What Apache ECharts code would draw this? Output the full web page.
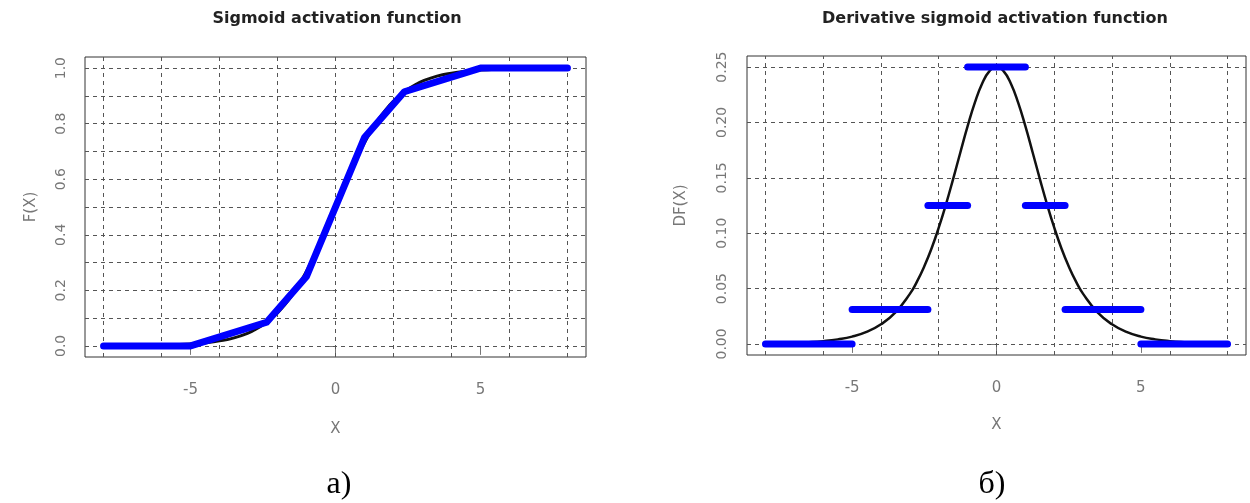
<!DOCTYPE html>
<html>
<head>
<meta charset="utf-8">
<script src="https://cdn.jsdelivr.net/npm/echarts@6/dist/echarts.min.js"></script>
<style>
  html, body { margin: 0; padding: 0; background: #fff; }
  #main { width: 1250px; height: 503px; }
</style>
</head>
<body>
<div id="main"></div>
<script>
// значения
var xs = [-8,-7.5,-7,-6.5,-6,-5.5,-5,-4.5,-4,-3.5,-3,-2.75,-2.5,-2.25,-2,-1.75,-1.5,-1.25,-1,-0.75,-0.5,-0.25,0,
          0.25,0.5,0.75,1,1.25,1.5,1.75,2,2.25,2.5,2.75,3,3.5,4,4.5,5,5.5,6,6.5,7,7.5,8];
// сигмоида (черная кривая, слева)
var sigY = [0.0003,0.0006,0.0009,0.0015,0.0025,0.0041,0.0067,0.011,0.018,0.029,0.047,0.060,0.076,0.095,0.119,0.148,0.182,0.223,0.269,0.321,0.378,0.438,0.5,
            0.562,0.622,0.679,0.731,0.777,0.818,0.852,0.881,0.905,0.924,0.940,0.953,0.971,0.982,0.989,0.993,0.996,0.998,0.998,0.999,0.999,1.0];
// производная сигмоиды (черная кривая, справа)
var dsigY = [0.0003,0.0006,0.0009,0.0015,0.0025,0.0041,0.0066,0.0109,0.0177,0.0285,0.0452,0.0565,0.0701,0.0862,0.105,0.1261,0.1491,0.1731,0.1966,0.2179,0.235,0.2461,0.25,
             0.2461,0.235,0.2179,0.1966,0.1731,0.1491,0.1261,0.105,0.0862,0.0701,0.0565,0.0452,0.0285,0.0177,0.0109,0.0066,0.0041,0.0025,0.0015,0.0009,0.0006,0.0003];
// кусочно-линейная аппроксимация (синяя линия)
var hardX = [-8,-5,-2.375,-1,0,1,2.375,5,8];
var hardY = [0,0,0.085,0.25,0.5,0.75,0.915,1,1];
// производная аппроксимации (синие отрезки)
var segFrom = [-8,-5,-2.375,-1,1,2.375,5];
var segTo   = [-5,-2.375,-1,1,2.375,5,8];
var segY    = [0,0.031,0.125,0.25,0.125,0.031,0];
// подписи и сетка
var xTicks = [-5,0,5];
var yTicksL = [0,0.2,0.4,0.6,0.8,1.0];
var yTicksR = [0,0.05,0.10,0.15,0.20,0.25];
var vGrid = [-8,-6,-4,-2,0,2,4,6,8];
var hGridL = [0,0.1,0.2,0.3,0.4,0.5,0.6,0.7,0.8,0.9,1.0];
var hGridR = [0,0.05,0.10,0.15,0.20,0.25];

var myChart = echarts.init(document.getElementById('main'));

var tickColor = '#777';
var labColor = '#777';
var gridLine = { color: '#555', width: 1, type: [4, 4] };

function xAxisOpt(gi, gap) {
    return {
        type: 'value', gridIndex: gi, min: -8.64, max: 8.64,
        axisLine: { show: false },
        axisTick: { show: true, customValues: xTicks, length: 9, lineStyle: { color: tickColor } },
        axisLabel: { customValues: xTicks, margin: 26, color: labColor, fontSize: 15, fontFamily: 'DejaVu Sans' },
        splitLine: { show: false },
        name: 'X', nameLocation: 'middle', nameGap: gap,
        nameTextStyle: { color: labColor, fontSize: 15, fontFamily: 'DejaVu Sans' }
    };
}
function yAxisOpt(gi, min, max, ticks, digits, name, gap, margin) {
    return {
        type: 'value', gridIndex: gi, min: min, max: max,
        axisLine: { show: false },
        axisTick: { show: true, customValues: ticks, length: 9, lineStyle: { color: tickColor } },
        axisLabel: {
            customValues: ticks, rotate: 90, margin: margin, color: labColor, fontSize: 14, fontFamily: 'DejaVu Sans',
            formatter: function (v) { return v.toFixed(digits); }
        },
        splitLine: { show: false },
        name: name, nameLocation: 'middle', nameRotate: 90, nameGap: gap,
        nameTextStyle: { color: labColor, fontSize: 15, fontFamily: 'DejaVu Sans' }
    };
}
function gridLines(gi, hVals) {
    var d = [];
    vGrid.forEach(function (v) { d.push({ xAxis: v }); });
    hVals.forEach(function (v) { d.push({ yAxis: v }); });
    return {
        type: 'line', xAxisIndex: gi, yAxisIndex: gi, data: [], z: 1,
        markLine: { silent: true, symbol: ['none', 'none'], label: { show: false }, lineStyle: gridLine, z: 1, data: d, animation: false }
    };
}

var series = [];
series.push(gridLines(0, hGridL));
series.push(gridLines(1, hGridR));
series.push({
    type: 'line', xAxisIndex: 0, yAxisIndex: 0, z: 3, smooth: true, showSymbol: false,
    lineStyle: { color: '#111', width: 3 },
    data: xs.map(function (x, i) { return [x, sigY[i]]; })
});
series.push({
    type: 'line', xAxisIndex: 0, yAxisIndex: 0, z: 4, showSymbol: false,
    lineStyle: { color: '#0000ff', width: 7, cap: 'round', join: 'round' },
    data: hardX.map(function (x, i) { return [x, hardY[i]]; })
});
series.push({
    type: 'line', xAxisIndex: 1, yAxisIndex: 1, z: 3, smooth: true, showSymbol: false,
    lineStyle: { color: '#111', width: 2.5 },
    data: xs.map(function (x, i) { return [x, dsigY[i]]; })
});
for (var k = 0; k < segFrom.length; k++) {
    series.push({
        type: 'line', xAxisIndex: 1, yAxisIndex: 1, z: 4, showSymbol: false,
        lineStyle: { color: '#0000ff', width: 7, cap: 'round' },
        data: [[segFrom[k], segY[k]], [segTo[k], segY[k]]]
    });
}

myChart.setOption({
    animation: false,
    grid: [
        { left: 85, top: 57, width: 501, height: 300, show: true, borderColor: '#333', borderWidth: 1 },
        { left: 747, top: 56, width: 499, height: 299, show: true, borderColor: '#333', borderWidth: 1 }
    ],
    xAxis: [xAxisOpt(0, 65), xAxisOpt(1, 63)],
    yAxis: [
        yAxisOpt(0, -0.04, 1.04, yTicksL, 1, 'F(X)', 46, 17),
        yAxisOpt(1, -0.01, 0.26, yTicksR, 2, 'DF(X)', 58, 18)
    ],
    graphic: [
        { type: 'text', x: 337, y: 19, style: { text: 'Sigmoid activation function', fill: '#222', font: 'bold 16px "DejaVu Sans"', textAlign: 'center', textVerticalAlign: 'middle' } },
        { type: 'text', x: 995, y: 19, style: { text: 'Derivative sigmoid activation function', fill: '#222', font: 'bold 16px "DejaVu Sans"', textAlign: 'center', textVerticalAlign: 'middle' } },
        { type: 'text', x: 339, y: 485, style: { text: 'а)', fill: '#000', font: '32px "Liberation Serif"', textAlign: 'center', textVerticalAlign: 'middle' } },
        { type: 'text', x: 992, y: 485, style: { text: 'б)', fill: '#000', font: '32px "Liberation Serif"', textAlign: 'center', textVerticalAlign: 'middle' } }
    ],
    series: series
});
</script>
</body>
</html>
